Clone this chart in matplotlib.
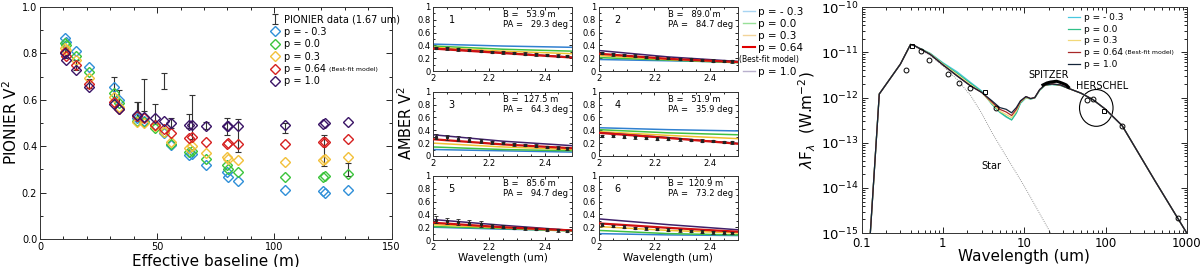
import numpy as np
import matplotlib
matplotlib.use("Agg")
import matplotlib.pyplot as plt
from matplotlib.lines import Line2D
from matplotlib.patches import Ellipse
from matplotlib.ticker import MultipleLocator, FixedLocator, FormatStrFormatter

# ---------------- PIONIER panel data ----------------
model_labels = ["p = - 0.3", "p = 0.0", "p = 0.3", "p = 0.64", "p = 1.0"]
pio_colors = ["#2f8fd8", "#3cc43c", "#f2c03a", "#d62020", "#3a1466"]

baseline = [10.5, 11.0, 15.2, 21.0, 31.8, 33.8, 41.3, 44.2, 49.2, 53.0, 56.0,
            63.5, 64.8, 70.8, 79.8, 80.2, 84.5, 104.5, 120.8, 121.5, 131.5]
v2_m03 = [0.866, 0.85, 0.81, 0.74, 0.655, 0.60, 0.52, 0.51, 0.49, 0.455, 0.405,
          0.36, 0.365, 0.32, 0.29, 0.265, 0.25, 0.212, 0.205, 0.20, 0.212]
v2_p00 = [0.845, 0.835, 0.79, 0.72, 0.63, 0.585, 0.51, 0.505, 0.48, 0.46, 0.41,
          0.375, 0.38, 0.345, 0.32, 0.30, 0.29, 0.268, 0.268, 0.27, 0.28]
v2_p03 = [0.825, 0.815, 0.77, 0.695, 0.61, 0.57, 0.505, 0.50, 0.485, 0.46, 0.42,
          0.39, 0.40, 0.372, 0.355, 0.345, 0.34, 0.333, 0.34, 0.345, 0.355]
v2_p064 = [0.805, 0.79, 0.75, 0.67, 0.59, 0.56, 0.53, 0.52, 0.49, 0.475, 0.455,
           0.435, 0.44, 0.42, 0.41, 0.415, 0.41, 0.41, 0.42, 0.42, 0.43]
v2_p10 = [0.80, 0.77, 0.73, 0.655, 0.58, 0.56, 0.535, 0.525, 0.52, 0.51, 0.50,
          0.49, 0.49, 0.487, 0.485, 0.487, 0.485, 0.49, 0.497, 0.50, 0.503]

pio_B = [10.8, 15.2, 21.0, 31.8, 33.8, 41.2, 41.8, 44.2, 49.2, 53.0, 56.0,
         63.5, 64.8, 70.8, 80.0, 84.5, 104.5, 121.0, 131.5]
pio_v2 = [0.80, 0.75, 0.67, 0.65, 0.61, 0.555, 0.55, 0.62, 0.54, 0.68, 0.50,
          0.51, 0.525, 0.49, 0.485, 0.445, 0.478, 0.38, 0.30]
pio_err = [0.02, 0.02, 0.02, 0.05, 0.03, 0.035, 0.04, 0.07, 0.043, 0.035, 0.02,
           0.03, 0.095, 0.015, 0.035, 0.07, 0.023, 0.067, 0.027]

# ---------------- AMBER panel data ----------------
amb_colors = ["#3080d0", "#40c040", "#f0c030", "#d01010", "#40206a"]
amb_leg_colors = ["#a8d4f2", "#98e098", "#f2d49a", "#e00000", "#b8b0cc"]
amb_info = [("1", "53.9", "29.3"), ("2", "89.0", "84.7"), ("3", "127.5", "64.3"),
            ("4", "51.9", "35.9"), ("5", "85.6", "94.7"), ("6", "120.9", "73.2")]
amb_wl_model = [2.0, 2.25, 2.5]
# model V2 per sub-panel, per model (p=-0.3, 0.0, 0.3, 0.64, 1.0)
amb_models = [
    [[0.42, 0.39, 0.37], [0.39, 0.34, 0.31], [0.37, 0.31, 0.27], [0.35, 0.28, 0.21], [0.355, 0.285, 0.215]],
    [[0.18, 0.16, 0.14], [0.21, 0.17, 0.13], [0.24, 0.18, 0.14], [0.27, 0.19, 0.14], [0.32, 0.22, 0.15]],
    [[0.10, 0.08, 0.06], [0.14, 0.10, 0.08], [0.20, 0.14, 0.10], [0.26, 0.18, 0.12], [0.33, 0.23, 0.16]],
    [[0.44, 0.41, 0.39], [0.41, 0.36, 0.33], [0.38, 0.32, 0.27], [0.36, 0.28, 0.19], [0.365, 0.285, 0.195]],
    [[0.20, 0.17, 0.15], [0.21, 0.18, 0.14], [0.24, 0.19, 0.15], [0.27, 0.20, 0.15], [0.32, 0.23, 0.15]],
    [[0.10, 0.08, 0.07], [0.15, 0.10, 0.08], [0.21, 0.15, 0.11], [0.26, 0.19, 0.13], [0.33, 0.24, 0.16]],
]
amb_wl = [2.01, 2.05, 2.09, 2.13, 2.17, 2.21, 2.25, 2.29, 2.33, 2.37, 2.41, 2.45, 2.48]
amb_v2 = [
    [0.36, 0.355, 0.34, 0.33, 0.31, 0.30, 0.29, 0.28, 0.27, 0.26, 0.25, 0.24, 0.235],
    [0.28, 0.26, 0.25, 0.24, 0.22, 0.21, 0.20, 0.19, 0.18, 0.17, 0.16, 0.155, 0.15],
    [0.30, 0.29, 0.27, 0.25, 0.23, 0.21, 0.20, 0.18, 0.17, 0.16, 0.14, 0.13, 0.12],
    [0.31, 0.31, 0.30, 0.29, 0.28, 0.27, 0.27, 0.26, 0.25, 0.24, 0.23, 0.22, 0.21],
    [0.32, 0.30, 0.28, 0.27, 0.25, 0.22, 0.21, 0.19, 0.18, 0.17, 0.16, 0.15, 0.14],
    [0.24, 0.22, 0.21, 0.19, 0.18, 0.17, 0.16, 0.15, 0.14, 0.13, 0.12, 0.115, 0.11],
]
amb_err = [
    [0.02, 0.02, 0.02, 0.02, 0.02, 0.02, 0.02, 0.02, 0.02, 0.02, 0.02, 0.02, 0.02],
    [0.02, 0.02, 0.02, 0.02, 0.02, 0.02, 0.02, 0.02, 0.02, 0.02, 0.02, 0.02, 0.02],
    [0.04, 0.04, 0.04, 0.04, 0.03, 0.02, 0.02, 0.02, 0.02, 0.02, 0.02, 0.02, 0.02],
    [0.02, 0.02, 0.02, 0.02, 0.02, 0.02, 0.02, 0.02, 0.02, 0.02, 0.02, 0.02, 0.02],
    [0.06, 0.05, 0.05, 0.04, 0.04, 0.03, 0.02, 0.02, 0.02, 0.02, 0.02, 0.02, 0.02],
    [0.02, 0.02, 0.02, 0.02, 0.02, 0.02, 0.02, 0.02, 0.02, 0.02, 0.02, 0.02, 0.02],
]

# ---------------- SED panel data ----------------
sed_colors = ["#48c8e0", "#30c088", "#f2d878", "#a82828", "#142438"]
sed_wl = [0.127, 0.165, 0.30, 0.40, 0.45, 0.7, 1.0, 1.5, 2.2, 3.0, 4.0, 5.0, 6.0,
          7.0, 8.0, 9.0, 10.5, 12.0, 13.5, 15.5, 18, 22, 28, 35, 50, 70, 100,
          160, 400, 1000]
sed_m03 = [8e-16, 1.2e-12, 5.5e-12, 1.5e-11, 1.4e-11, 9.5e-12, 5.9e-12, 3.7e-12,
           2.15e-12, 1.4e-12, 7.2e-13, 4.7e-13, 3.7e-13, 3.2e-13, 4.5e-13, 7.5e-13,
           9.8e-13, 9.3e-13, 9.8e-13, 1.45e-12, 1.85e-12, 1.95e-12, 1.85e-12,
           1.6e-12, 1.25e-12, 9e-13, 5.5e-13, 2.4e-13, 1.5e-14, 1.0e-15]
sed_p00 = [8e-16, 1.2e-12, 5.5e-12, 1.5e-11, 1.4e-11, 9.4e-12, 5.7e-12, 3.45e-12,
           2.05e-12, 1.35e-12, 7.2e-13, 4.8e-13, 3.8e-13, 3.2e-13, 4.6e-13, 7.6e-13,
           1.0e-12, 9.3e-13, 9.8e-13, 1.45e-12, 1.85e-12, 1.95e-12, 1.85e-12,
           1.6e-12, 1.25e-12, 9e-13, 5.5e-13, 2.4e-13, 1.5e-14, 1.0e-15]
sed_p03 = [8e-16, 1.2e-12, 5.5e-12, 1.5e-11, 1.4e-11, 9.2e-12, 5.5e-12, 3.2e-12,
           1.9e-12, 1.3e-12, 7.5e-13, 5.0e-13, 4.2e-13, 3.6e-13, 5.0e-13, 8.0e-13,
           1.0e-12, 9.4e-13, 9.9e-13, 1.47e-12, 1.88e-12, 1.98e-12, 1.88e-12,
           1.6e-12, 1.25e-12, 9e-13, 5.5e-13, 2.4e-13, 1.5e-14, 1.0e-15]
sed_p064 = [8e-16, 1.2e-12, 5.5e-12, 1.5e-11, 1.4e-11, 9.0e-12, 5.3e-12, 3.0e-12,
            1.8e-12, 1.3e-12, 8.0e-13, 5.5e-13, 4.8e-13, 4.0e-13, 5.5e-13, 8.2e-13,
            1.05e-12, 9.5e-13, 1.0e-12, 1.5e-12, 1.9e-12, 2.0e-12, 1.9e-12,
            1.6e-12, 1.25e-12, 9e-13, 5.5e-13, 2.4e-13, 1.5e-14, 1.0e-15]
sed_p10 = [8e-16, 1.2e-12, 5.5e-12, 1.5e-11, 1.4e-11, 9.0e-12, 5.3e-12, 3.0e-12,
           1.8e-12, 1.3e-12, 8.5e-13, 6.0e-13, 5.5e-13, 4.6e-13, 6.0e-13, 8.5e-13,
           1.05e-12, 9.5e-13, 1.0e-12, 1.5e-12, 1.9e-12, 2.0e-12, 1.9e-12,
           1.6e-12, 1.25e-12, 9e-13, 5.5e-13, 2.4e-13, 1.5e-14, 1.0e-15]
star_wl = [0.40, 0.7, 1.0, 1.5, 2.2, 3.0, 4.0, 6.0, 10, 15, 20, 22]
star_f = [1.5e-11, 8.5e-12, 5e-12, 2.5e-12, 1.1e-12, 4.5e-13, 1.7e-13, 5e-14,
          1.1e-14, 3e-15, 1.2e-15, 9e-16]
spitzer_wl = [17, 19, 21, 23, 25, 27, 29, 31, 33, 35]
spitzer_f = [1.9e-12, 2.1e-12, 2.2e-12, 2.25e-12, 2.3e-12, 2.2e-12, 2.1e-12,
             2.0e-12, 1.9e-12, 1.7e-12]
phot_o_wl = [0.35, 0.54, 0.67, 1.17, 1.6, 2.17, 4.5, 60, 70, 160, 780]
phot_o_f = [4e-12, 1.05e-11, 6.9e-12, 3.4e-12, 2.1e-12, 1.6e-12, 5.9e-13,
            9e-13, 9.5e-13, 2.4e-13, 2.2e-15]
phot_s_wl = [0.42, 3.3, 95]
phot_s_f = [1.4e-11, 1.35e-12, 5e-13]


def style_ticks(ax, size=3, labelsize=7):
    ax.tick_params(which="both", direction="in", top=True, right=True,
                   labelsize=labelsize, width=0.6, pad=2)
    ax.tick_params(which="major", length=size)
    ax.tick_params(which="minor", length=size * 0.6)
    for s in ax.spines.values():
        s.set_linewidth(0.7)
        s.set_color("#333333")


def note_at(fig, txt, note, fs, x_fig=None, dx=2):
    # small text placed next to a legend entry, once the layout is known
    fig.canvas.draw()
    bb = txt.get_window_extent()
    x, y = fig.transFigure.inverted().transform((bb.x1 + dx, (bb.y0 + bb.y1) / 2))
    if x_fig is not None:
        x = x_fig
    fig.text(x, y, note, fontsize=fs, va="center", ha="left")


fig = plt.figure(figsize=(12, 2.67), dpi=100)

# ---------------- Panel 1: PIONIER ----------------
ax1 = fig.add_axes([0.0333, 0.105, 0.293, 0.869])
series = [v2_m03, v2_p00, v2_p03, v2_p064, v2_p10]
handles = []
eb = ax1.errorbar(pio_B, pio_v2, yerr=pio_err, fmt="none", ecolor="#333333",
                  elinewidth=0.8, capsize=2, capthick=0.8)
for vals, col, lab in zip(series, pio_colors, model_labels):
    h, = ax1.plot(baseline, vals, "D", mfc="none", mec=col, ms=5, mew=1.0,
                  ls="none")
    handles.append(h)
ax1.set_xlim(0, 150)
ax1.set_ylim(0, 1.0)
ax1.xaxis.set_major_locator(MultipleLocator(50))
ax1.xaxis.set_minor_locator(MultipleLocator(10))
ax1.yaxis.set_major_locator(MultipleLocator(0.2))
ax1.yaxis.set_minor_locator(MultipleLocator(0.1))
ax1.yaxis.set_major_formatter(FormatStrFormatter("%.1f"))
style_ticks(ax1, size=4, labelsize=7)
ax1.set_xlabel("Effective baseline (m)", fontsize=11, labelpad=1)
ax1.set_ylabel("PIONIER V$^2$", fontsize=11, labelpad=1)
leg1 = ax1.legend([eb] + handles, ["PIONIER data (1.67 um)"] + model_labels,
                  loc="upper left", bbox_to_anchor=(0.645, 0.985), frameon=False,
                  fontsize=7, handlelength=1.0, handletextpad=0.4,
                  labelspacing=0.25, borderaxespad=0)

# ---------------- Panel 2: AMBER ----------------
cols_x = [0.361, 0.499]
rows_y = [0.734, 0.416, 0.101]
w2, h2 = 0.116, 0.240
for k in range(6):
    r, c = divmod(k, 2)
    ax = fig.add_axes([cols_x[c], rows_y[r], w2, h2])
    for j in range(5):
        ax.plot(amb_wl_model, amb_models[k][j], color=amb_colors[j],
                lw=1.6 if j == 3 else 1.1, zorder=2 + (j == 3))
    ax.errorbar(amb_wl, amb_v2[k], yerr=amb_err[k], fmt="s", color="#222222",
                ms=1.3, elinewidth=0.6, capsize=1.2, capthick=0.6, zorder=4)
    ax.set_xlim(2.0, 2.5)
    ax.set_ylim(0, 1)
    ax.xaxis.set_major_locator(FixedLocator([2.0, 2.2, 2.4]))
    ax.xaxis.set_major_formatter(FormatStrFormatter("%g"))
    ax.xaxis.set_minor_locator(MultipleLocator(0.05))
    ax.yaxis.set_major_locator(MultipleLocator(0.2))
    ax.yaxis.set_major_formatter(FormatStrFormatter("%g"))
    ax.yaxis.set_minor_locator(MultipleLocator(0.1))
    style_ticks(ax, size=2.5, labelsize=6)
    num, bl, pa = amb_info[k]
    ax.text(0.11, 0.80, num, transform=ax.transAxes, fontsize=7, va="center")
    ax.text(0.50, 0.875, "B = %6s m" % bl, transform=ax.transAxes, fontsize=6,
            va="center")
    ax.text(0.50, 0.72, "PA = %6s deg" % pa, transform=ax.transAxes,
            fontsize=6, va="center")
    if r == 2:
        ax.set_xlabel("Wavelength (um)", fontsize=7.5, labelpad=1)
fig.text(0.338, 0.54, "AMBER V$^2$", rotation=90, fontsize=10.5, va="center",
         ha="center")
amb_handles = [Line2D([], [], color=c, lw=1.5 if i == 3 else 1.0)
               for i, c in enumerate(amb_leg_colors)]
amb_handles.insert(4, Line2D([], [], color="none"))
amb_labels = ["p = - 0.3", "p = 0.0", "p = 0.3", "p = 0.64", " ", "p = 1.0"]
leg2 = fig.legend(amb_handles, amb_labels, loc="upper left",
                  bbox_to_anchor=(0.616, 0.99), frameon=False, fontsize=7.5,
                  handlelength=1.1, handletextpad=0.3, labelspacing=0.2,
                  borderaxespad=0)
leg2.get_texts()[4].set_fontsize(6)

# ---------------- Panel 3: SED ----------------
ax3 = fig.add_axes([0.718, 0.127, 0.271, 0.846])
ax3.plot(star_wl, star_f, ls=(0, (1, 1.5)), color="#777777", lw=0.6)
sed_series = [sed_m03, sed_p00, sed_p03, sed_p064, sed_p10]
sed_handles = []
for vals, col in zip(sed_series, sed_colors):
    h, = ax3.plot(sed_wl, vals, color=col, lw=0.9)
    sed_handles.append(h)
ax3.plot(spitzer_wl, spitzer_f, color="black", lw=2.2)
ax3.plot(phot_o_wl, phot_o_f, "o", mfc="none", mec="black", ms=3.5, mew=0.7)
ax3.plot(phot_s_wl, phot_s_f, "s", mfc="none", mec="black", ms=3.2, mew=0.7)
ax3.set_xscale("log")
ax3.set_yscale("log")
ax3.set_xlim(0.1, 1000)
ax3.set_ylim(1e-15, 1e-10)
ax3.xaxis.set_major_locator(FixedLocator([0.1, 1, 10, 100, 1000]))
ax3.xaxis.set_major_formatter(FormatStrFormatter("%g"))
style_ticks(ax3, size=4, labelsize=9.5)
ax3.tick_params(axis="x", labelsize=8.5, pad=3)
ax3.set_xlabel("Wavelength (um)", fontsize=11, labelpad=-1)
ax3.set_ylabel(r"$\lambda$F$_\lambda$  (W.m$^{-2}$)", fontsize=11, labelpad=2)
ax3.text(20, 3.2e-12, "SPITZER", fontsize=7, ha="center", va="center")
ax3.text(90, 1.8e-12, "HERSCHEL", fontsize=7, ha="center", va="center")
ax3.text(4.0, 3e-14, "Star", fontsize=7, ha="center", va="center")
# ellipse around the Herschel points, drawn in axes fraction of the log axes
ex = (np.log10(77) + 1) / 4
ey = (np.log10(5.9e-13) + 15) / 5
ew = (np.log10(124) - np.log10(48)) / 4
eh = (np.log10(1.5e-12) - np.log10(2.3e-13)) / 5
ax3.add_patch(Ellipse((ex, ey), ew, eh, transform=ax3.transAxes, fill=False,
                      ec="black", lw=0.8))
leg3 = ax3.legend(sed_handles, model_labels, loc="upper left",
                  bbox_to_anchor=(0.625, 0.99), frameon=False, fontsize=6.5,
                  handlelength=1.3, handletextpad=0.4, labelspacing=0.3,
                  borderaxespad=0)

note_at(fig, leg1.get_texts()[4], "(Best-fit model)", 4.5, dx=3)
note_at(fig, leg3.get_texts()[3], "(Best-fit model)", 4.5, dx=2)
note_at(fig, leg2.get_texts()[4], "(Best-fit model)", 5.5, x_fig=0.616)

fig.savefig("out.png", dpi=100)
